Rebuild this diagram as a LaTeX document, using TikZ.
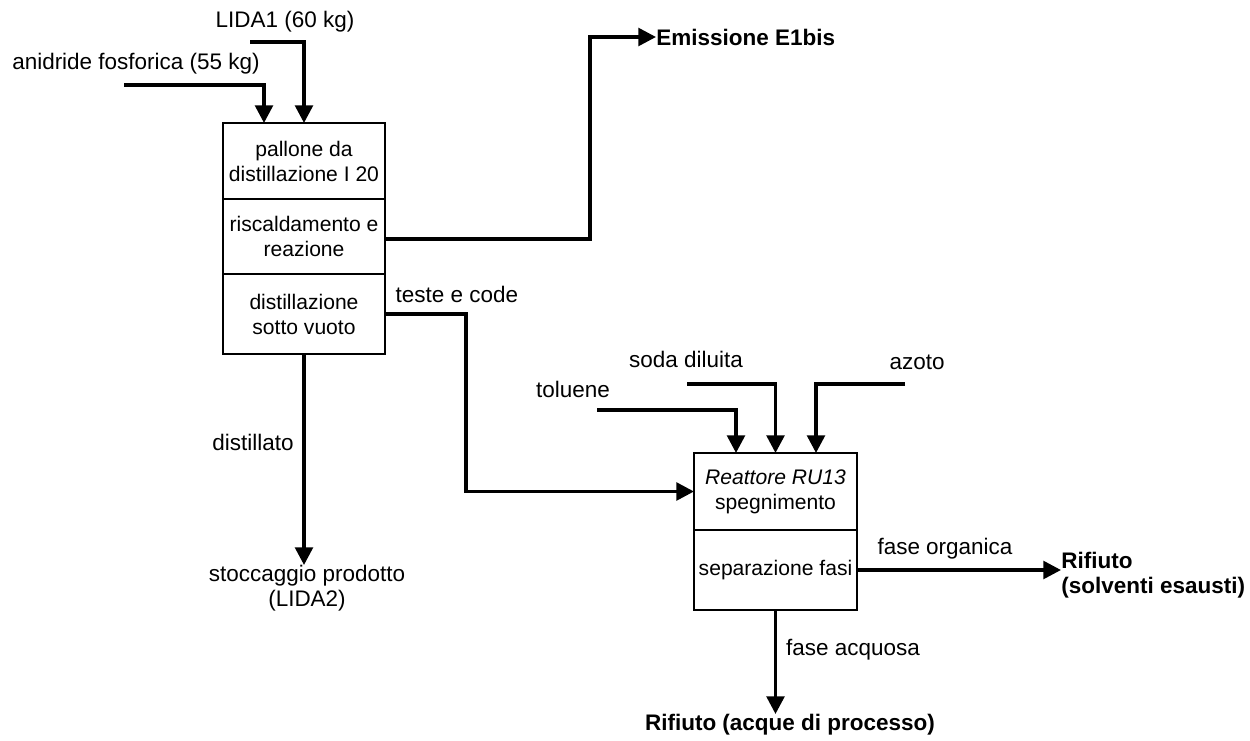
\documentclass[tikz,border=0pt]{standalone}
\usepackage{fontspec}
\setmainfont{Liberation Sans}
\usetikzlibrary{arrows.meta}
\begin{document}
\begin{tikzpicture}[x=0.02cm,y=-0.02cm,
  every node/.style={font=\fontsize{12.8}{14.2}\selectfont},
  cell/.style={draw, line width=0.9pt, inner sep=1pt, outer sep=0pt, align=center, minimum width=#1,
    font=\fontsize{12}{14.2}\selectfont},
  cell/.default=3.24cm,
  lbl/.style={inner sep=0pt, align=center},
  dest/.style={inner sep=0pt, align=left, font=\fontsize{12.8}{14.2}\selectfont\bfseries},
  flow/.style={line width=2pt, -{Triangle[length=10pt,width=10pt]}}]
\useasboundingbox (0,0) rectangle (1250,740);

% distillation flask
\node[cell, minimum height=1.52cm] (b1a) at (304,161) {pallone da\\distillazione I 20};
\node[cell, minimum height=1.50cm] (b1b) at (304,236.5) {riscaldamento e\\reazione};
\node[cell, minimum height=1.60cm] (b1c) at (304,314) {distillazione\\sotto vuoto};

% reactor RU13
\node[cell=3.26cm, minimum height=1.54cm] (b2a) at (775.5,491.5) {\textit{Reattore RU13}\\spegnimento};
\node[cell=3.26cm, minimum height=1.60cm] (b2b) at (775.5,570) {separazione fasi};

% feed labels
\node[lbl] (anid) at (136,64) {anidride fosforica (55 kg)};
\node[lbl] (lida) at (285,22) {LIDA1 (60 kg)};
\node[lbl] (tol) at (573,389) {toluene};
\node[lbl] (soda) at (686,359) {soda diluita};
\node[lbl] (azo) at (917,362) {azoto};

% stream labels
\node[lbl] (tc) at (457,294) {teste e code};
\node[lbl] (dist) at (253,442) {distillato};
\node[lbl] (forg) at (945,549) {fase organica};
\node[lbl] (facq) at (853,650) {fase acquosa};

% destinations
\node[dest, anchor=west] (em) at (656,37) {Emissione E1bis};
\node[dest, anchor=west] (rs) at (1061,575) {Rifiuto\\(solventi esausti)};
\node[dest, anchor=north] (ra) at (790,714) {Rifiuto (acque di processo)};
\node[lbl, anchor=north] (st) at (307,565) {stoccaggio prodotto\\(LIDA2)};

% free ends and bends
\coordinate (pA) at (124,85);
\coordinate (xA) at (264,0);
\coordinate (pL) at (250,42);
\coordinate (xE) at (590,0);
\coordinate (xT) at (466,0);
\coordinate (pTol) at (597,410);
\coordinate (xTol) at (736,0);
\coordinate (pSoda) at (687,384);
\coordinate (pAzo) at (905,384);
\coordinate (xAzo) at (816,0);
\coordinate (yEm) at (0,239);

% connectors
\draw[flow] (pA) -| (xA |- b1a.north);
\draw[flow] (pL) -| (b1a.north);
\draw[flow] (b1b.east |- yEm) -| (xE |- em.west) -- (em.west);
\draw[flow] (b1c.east) -| (xT |- b2a.west) -- (b2a.west);
\draw[flow] (b1c.south) -- (b1c.south |- st.north);
\draw[flow] (pTol) -| (xTol |- b2a.north);
\draw[flow] (pSoda) -| (b2a.north);
\draw[flow] (pAzo) -| (xAzo |- b2a.north);
\draw[flow] (b2b.east) -- (b2b.east -| rs.west);
\draw[flow] (b2b.south) -- (b2b.south |- ra.north);
\end{tikzpicture}
\end{document}
